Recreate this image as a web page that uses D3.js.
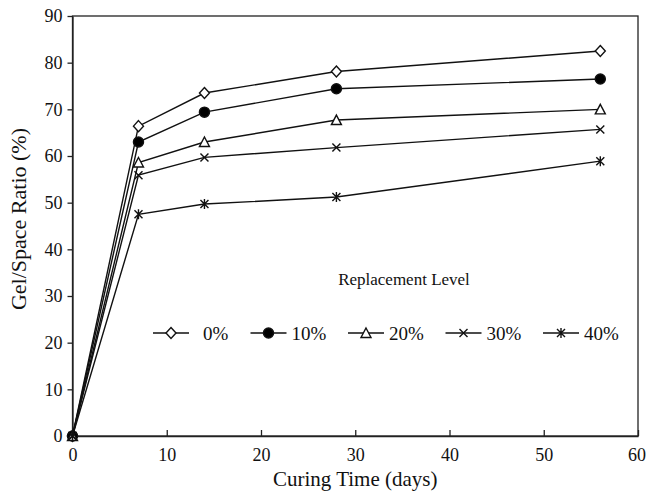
<!DOCTYPE html>
<html>
<head>
<meta charset="utf-8">
<script src="https://cdn.jsdelivr.net/npm/d3@7"></script>
<style>
	body { margin: 0; background: #fff; }
	text { font-family: "Liberation Serif", "Times New Roman", serif; fill: #111; }
</style>
</head>
<body>
<svg id="chart" width="646" height="492"></svg>
<script>
// curing time (days) and gel/space ratio (%) per replacement level
const days = [0, 7, 14, 28, 56];
const levels = ["0%", "10%", "20%", "30%", "40%"];
const markers = ["diamond", "circle", "triangle", "cross", "asterisk"];
const gel0 = [0, 66.4, 73.5, 78.1, 82.5];
const gel10 = [0, 63.0, 69.4, 74.4, 76.5];
const gel20 = [0, 58.6, 63.0, 67.7, 70.0];
const gel30 = [0, 55.9, 59.7, 61.8, 65.7];
const gel40 = [0, 47.5, 49.7, 51.2, 58.9];
const xTicks = [0, 10, 20, 30, 40, 50, 60];
const yTicks = [0, 10, 20, 30, 40, 50, 60, 70, 80, 90];

let series = [gel0, gel10, gel20, gel30, gel40].map(function(vals, i) {
	return {
		name: levels[i],
		marker: markers[i],
		points: days.map(function(d, j) { return { x: d, y: vals[j] }; })
	};
});

let svg = d3.select("#chart");
let plotL = 72.5, plotR = 638, plotT = 16, plotB = 436;

let x = d3.scaleLinear().domain([0, 60]).range([plotL, plotR]);
let y = d3.scaleLinear().domain([0, 90]).range([plotB, plotT]);

/** path for a marker shape centred on 0,0 */
function markerPath(type) {
	if (type == "diamond") return "M0,-5.5L5,0L0,5.5L-5,0Z";
	if (type == "triangle") return "M0,-5L5,4.5L-5,4.5Z";
	if (type == "cross") return "M-4,-4L4,4M-4,4L4,-4";
	if (type == "asterisk") return "M-4,-4L4,4M-4,4L4,-4M0,-5L0,5";
	return d3.symbol(d3.symbolCircle, 80)();
}
function markerFill(type) {
	if (type == "circle") return "#000";
	if (type == "diamond" || type == "triangle") return "#fff";
	return "none";
}

// frame
svg.append("rect")
	.attr("x", plotL).attr("y", plotT)
	.attr("width", plotR - plotL).attr("height", plotB - plotT)
	.attr("fill", "none").attr("stroke", "#222").attr("stroke-width", 1.3);

// x axis, ticks point inward
let xAxis = svg.append("g")
	.attr("transform", "translate(0," + plotB + ")")
	.call(d3.axisBottom(x).tickValues(xTicks).tickSizeInner(-6).tickSizeOuter(0).tickPadding(12));
xAxis.select(".domain").attr("stroke", "#222").attr("stroke-width", 1.3);
xAxis.selectAll(".tick line").attr("stroke", "#222").attr("stroke-width", 1.3);
xAxis.selectAll("text").attr("font-size", 18).attr("fill", "#111")
	.attr("dx", function(d) { return d == 60 ? -1.5 : 0; });

// y axis, ticks point outward
let yAxis = svg.append("g")
	.attr("transform", "translate(" + plotL + ",0)")
	.call(d3.axisLeft(y).tickValues(yTicks).tickSizeInner(5).tickSizeOuter(0).tickPadding(5));
yAxis.select(".domain").attr("stroke", "#222").attr("stroke-width", 1.3);
yAxis.selectAll(".tick line").attr("stroke", "#222").attr("stroke-width", 1.3);
yAxis.selectAll("text").attr("font-size", 18).attr("fill", "#111");

// axis titles
svg.append("text")
	.attr("x", (plotL + plotR) / 2).attr("y", 486)
	.attr("text-anchor", "middle").attr("font-size", 21)
	.text("Curing Time (days)");
svg.append("text")
	.attr("transform", "translate(26,219) rotate(-90)")
	.attr("text-anchor", "middle").attr("font-size", 22)
	.text("Gel/Space Ratio (%)");

// lines
let line = d3.line()
	.x(function(d) { return x(d.x); })
	.y(function(d) { return y(d.y); });

let groups = svg.append("g").selectAll("g")
	.data(series)
	.enter().append("g");

groups.append("path")
	.attr("d", function(d) { return line(d.points); })
	.attr("fill", "none")
	.attr("stroke", "#111")
	.attr("stroke-width", 1.4);

groups.each(function(s) {
	d3.select(this).selectAll(".mk")
		.data(s.points)
		.enter().append("path")
		.attr("class", "mk")
		.attr("transform", function(d) { return "translate(" + x(d.x) + "," + y(d.y) + ")"; })
		.attr("d", markerPath(s.marker))
		.attr("fill", markerFill(s.marker))
		.attr("stroke", "#111")
		.attr("stroke-width", 1.4);
});

// legend
svg.append("text")
	.attr("x", 404).attr("y", 285)
	.attr("text-anchor", "middle").attr("font-size", 17)
	.text("Replacement Level");

let legendX = d3.scalePoint().domain(levels).range([153, 543]);
let legend = svg.append("g").selectAll("g")
	.data(series)
	.enter().append("g")
	.attr("transform", function(d) { return "translate(" + legendX(d.name) + ",333)"; });

legend.append("line")
	.attr("x1", 0).attr("x2", 36)
	.attr("stroke", "#111").attr("stroke-width", 1.4);
legend.append("path")
	.attr("transform", "translate(18,0)")
	.attr("d", function(d) { return markerPath(d.marker); })
	.attr("fill", function(d) { return markerFill(d.marker); })
	.attr("stroke", "#111").attr("stroke-width", 1.4);
legend.append("text")
	.attr("x", function(d, i) { return i == 0 ? 50 : 41; })
	.attr("y", 7)
	.attr("font-size", 19)
	.text(function(d) { return d.name; });
</script>
</body>
</html>
